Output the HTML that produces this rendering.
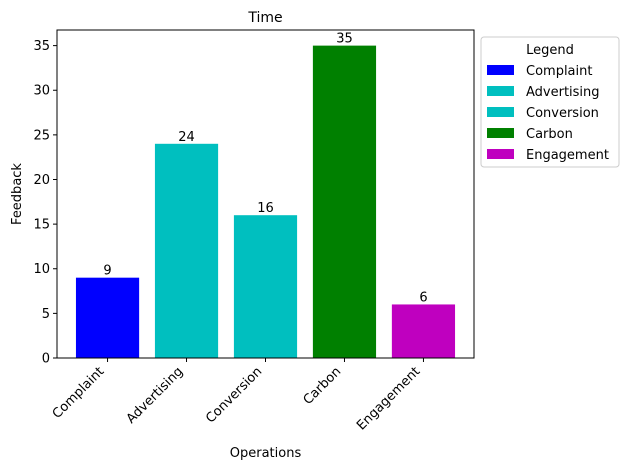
<!DOCTYPE html>
<html><head><meta charset="utf-8"><style>
body{margin:0;background:#fff;font-family:"Liberation Sans","DejaVu Sans",sans-serif;}
</style></head><body>
<svg width="630" height="470" viewBox="0 0 630 470" xmlns="http://www.w3.org/2000/svg" font-family="DejaVu Sans, Liberation Sans, sans-serif">
<rect width="630" height="470" fill="#fff"/>
<text x="265.5" y="22" text-anchor="middle" font-size="14">Time</text>
<g id="bars"></g>
<g id="yticks"></g>
<g id="xticks"></g>
<rect x="57" y="30" width="417" height="328" fill="none" stroke="#000" stroke-width="1"/>
<text x="265.5" y="457" text-anchor="middle" font-size="13">Operations</text>
<text transform="translate(21,194) rotate(-90)" text-anchor="middle" font-size="13">Feedback</text>
<g id="legend">
<rect x="481" y="37" width="138" height="130" rx="3" fill="#fff" stroke="#ccc"/>
<text x="550" y="54" text-anchor="middle" font-size="13">Legend</text>
</g>
</svg>
<script>
const categories=["Complaint","Advertising","Conversion","Carbon","Engagement"];
const values=[9,24,16,35,6];
const colors=["#0000ff","#00bfbf","#00bfbf","#008000","#bf00bf"];
const yTicks=[0,5,10,15,20,25,30,35];
const NS="http://www.w3.org/2000/svg";
const x0=57,x1=474,yTop=30,yBot=358,yMax=36.75;
const xmin=-0.64,xmax=4.64;
function xs(v){return x0+(v-xmin)/(xmax-xmin)*(x1-x0);}
function ys(v){return yBot-v/yMax*(yBot-yTop);}
function mk(t,a,p){const e=document.createElementNS(NS,t);for(const k in a)e.setAttribute(k,a[k]);p.appendChild(e);return e;}
const bars=document.getElementById('bars');
categories.forEach((c,i)=>{
  const r=mk('rect',{x:xs(i-0.4),y:ys(values[i]),width:xs(i+0.4)-xs(i-0.4),height:ys(0)-ys(values[i]),fill:colors[i]},bars);
  
  
  const t=mk('text',{x:xs(i),y:ys(values[i])-3,'text-anchor':'middle','font-size':13},bars);
  t.textContent=values[i];
  
  
});
const yt=document.getElementById('yticks');
yTicks.forEach(v=>{
  mk('line',{x1:x0-4,x2:x0,y1:ys(v),y2:ys(v),stroke:'#000'},yt);
  const t=mk('text',{x:x0-7,y:ys(v)+4.5,'text-anchor':'end','font-size':13},yt);
  t.textContent=v;
  
  
});
const xt=document.getElementById('xticks');
categories.forEach((c,i)=>{
  const x=xs(i);
  mk('line',{x1:x,x2:x,y1:yBot,y2:yBot+4,stroke:'#000'},xt);
  const t=mk('text',{transform:`translate(${x-3},${yBot+14}) rotate(-45)`,'text-anchor':'end','font-size':13},xt);
  t.textContent=c;
  
  
});
const lg=document.getElementById('legend');
categories.forEach((c,i)=>{
  const y=70+i*21;
  const r=mk('rect',{x:487,y:y-5,width:27,height:10,fill:colors[i]},lg);
  
  
  const t=mk('text',{x:526,y:y+5,'font-size':13},lg);
  t.textContent=c;
  
  
});
</script>
</body></html>
